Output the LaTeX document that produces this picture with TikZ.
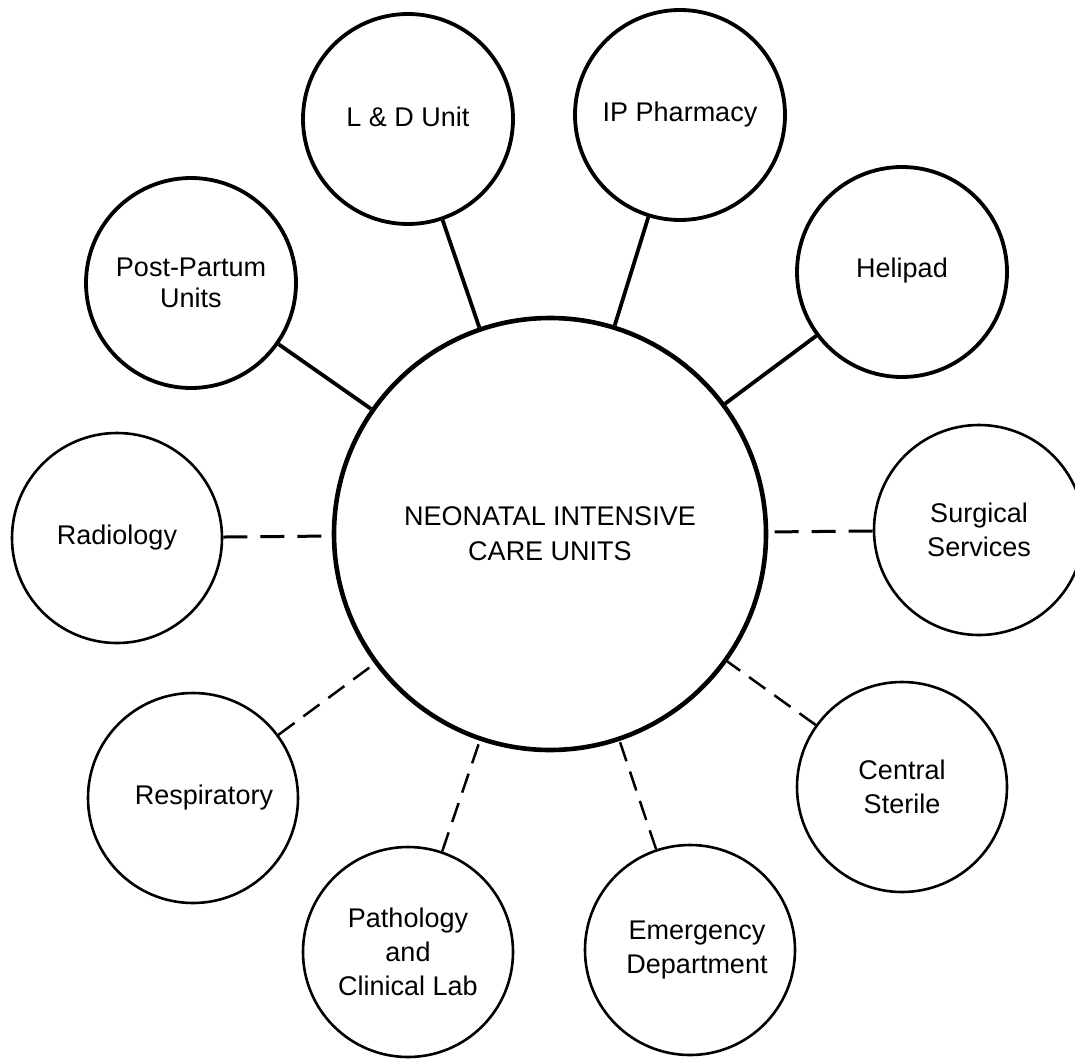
\documentclass[tikz,border=0pt]{standalone}
\usepackage{fontspec}
\setmainfont{Liberation Sans}
\usetikzlibrary{positioning}

\begin{document}
\begin{tikzpicture}[x=0.5pt,y=-0.5pt,
 hub/.style={draw,circle,line width=2.3pt,minimum size=216pt,inner sep=0pt,
 align=center,font=\fontsize{13.5}{17.5}\selectfont},
 unit/.style={draw,circle,line width=1.9pt,minimum size=105pt,inner sep=0pt,
 align=center,font=\fontsize{13.5}{17}\selectfont},
 unitthin/.style={unit,line width=1.3pt},
 link/.style={line width=1.9pt},
 dashlink/.style={line width=1.5pt,dash pattern=on 12pt off 6.5pt},
 dashthin/.style={line width=1.25pt,dash pattern=on 10pt off 5.5pt}]
\useasboundingbox (0,0) rectangle (1075,1059);
\node[hub] (nicu) at (550,534) {NEONATAL INTENSIVE\\CARE UNITS};
\node[unit] (ldunit) at (408,119) {\raisebox{2.5pt}{L \& D Unit}};
\node[unit] (pharmacy) at (680,115) {\raisebox{3pt}{IP Pharmacy}};
\node[unit] (helipad) at (902,272) {\raisebox{4.5pt}{Helipad}};
\node[unit] (postpartum) at (191,283) {Post-Partum\\[-1.5pt]Units};
\node[unitthin] (radiology) at (117,538) {Radiology};
\node[unitthin] (surgical) at (979,530) {Surgical\\Services};
\node[unitthin] (respiratory) at (193,798) {\hspace*{11pt}Respiratory};
\node[unitthin] (pathology) at (408,952) {Pathology\\and\\Clinical Lab};
\node[unitthin] (emergency) at (690,950) {\hspace*{7pt}Emergency\\\hspace*{7pt}Department};
\node[unitthin] (sterile) at (902,787) {Central\\Sterile};
\draw[link] (ldunit) -- (nicu);
\draw[link] (pharmacy) -- (nicu);
\draw[link] (helipad) -- (nicu);
\draw[link] (postpartum) -- (nicu);
\draw[dashlink] (radiology) -- (nicu);
\draw[dashlink] (surgical) -- (nicu);
\draw[dashthin] (respiratory) -- (nicu);
\draw[dashthin] (pathology) -- (nicu);
\draw[dashthin] (emergency) -- (nicu);
\draw[dashthin] (sterile) -- (nicu);
\end{tikzpicture}
\end{document}
